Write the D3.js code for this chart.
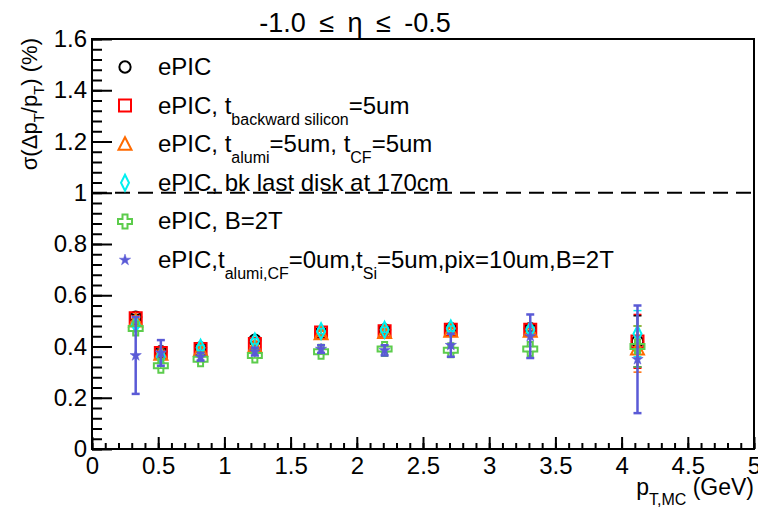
<!DOCTYPE html>
<html>
<head>
<meta charset="utf-8">
<script src="https://cdn.jsdelivr.net/npm/d3@7"></script>
<style>
	body { margin: 0; background: #fff; }
	svg { display: block; font-family: "Liberation Sans", Arial, sans-serif; }
</style>
</head>
<body>
<svg id="chart" width="758" height="510"></svg>
<script>
const ptValues = [0.33, 0.52, 0.82, 1.23, 1.73, 2.21, 2.71, 3.31, 4.12];

const epic = [0.515, 0.38, 0.395, 0.425, 0.455, 0.465, 0.47, 0.47, 0.42],
	epicErr = [0.01, 0.01, 0.01, 0.01, 0.01, 0.01, 0.01, 0.01, 0.1];
const bwdSi = [0.51, 0.375, 0.39, 0.41, 0.455, 0.46, 0.465, 0.465, 0.42],
	bwdSiErr = [0.01, 0.01, 0.01, 0.01, 0.01, 0.01, 0.01, 0.01, 0.105];
const alumiCF = [0.5, 0.37, 0.385, 0.4, 0.45, 0.455, 0.46, 0.46, 0.39],
	alumiCFErr = [0.01, 0.01, 0.01, 0.01, 0.01, 0.01, 0.01, 0.01, 0.09];
const lastDisk = [0.485, 0.36, 0.395, 0.42, 0.46, 0.465, 0.47, 0.465, 0.45],
	lastDiskErr = [0.01, 0.01, 0.01, 0.01, 0.01, 0.01, 0.01, 0.01, 0.09];
const field2T = [0.47, 0.325, 0.35, 0.365, 0.38, 0.39, 0.385, 0.39, 0.4],
	field2TErr = [0.01, 0.01, 0.01, 0.01, 0.01, 0.01, 0.01, 0.01, 0.08];
const thinAll = [0.365, 0.375, 0.36, 0.38, 0.39, 0.385, 0.405, 0.44, 0.35],
	thinAllErr = [0.15, 0.05, 0.015, 0.015, 0.015, 0.02, 0.045, 0.085, 0.21];

const xTicks = [0, 0.5, 1, 1.5, 2, 2.5, 3, 3.5, 4, 4.5, 5],
	yTicks = [0, 0.2, 0.4, 0.6, 0.8, 1, 1.2, 1.4, 1.6];

// legend labels, pieces flagged sub are subscripts
const legendLabels = [
	[{ t: 'ePIC' }],
	[{ t: 'ePIC, t' }, { t: 'backward silicon', sub: true }, { t: '=5um' }],
	[{ t: 'ePIC, t' }, { t: 'alumi', sub: true }, { t: '=5um, t' }, { t: 'CF', sub: true }, { t: '=5um' }],
	[{ t: 'ePIC, bk last disk at 170cm' }],
	[{ t: 'ePIC, B=2T' }],
	[{ t: 'ePIC,t' }, { t: 'alumi,CF', sub: true }, { t: '=0um,t' }, { t: 'Si', sub: true }, { t: '=5um,pix=10um,B=2T' }]
];

const series = [
	{ values: epic, errs: epicErr, color: '#000000', marker: 'circle' },
	{ values: bwdSi, errs: bwdSiErr, color: '#ff0000', marker: 'square' },
	{ values: alumiCF, errs: alumiCFErr, color: '#ff6a00', marker: 'triangle' },
	{ values: lastDisk, errs: lastDiskErr, color: '#00f0f0', marker: 'diamond' },
	{ values: field2T, errs: field2TErr, color: '#5ccc4c', marker: 'cross' },
	{ values: thinAll, errs: thinAllErr, color: '#5a5ad6', marker: 'star' }
];

const plotLeft = 92, plotRight = 754, plotTop = 39, plotBottom = 449;

const x = d3.scaleLinear().domain([0, 5]).range([plotLeft, plotRight]),
	y = d3.scaleLinear().domain([0, 1.6]).range([plotBottom, plotTop]);

const svg = d3.select('#chart');

// minor ticks
svg.append('g')
	.attr('transform', `translate(0,${plotBottom})`)
	.call(d3.axisBottom(x).tickValues(d3.range(0, 5.001, 0.1)).tickSize(-6).tickFormat(''))
	.call(g => g.select('.domain').remove())
	.call(g => g.selectAll('line').attr('stroke-width', 2));
svg.append('g')
	.attr('transform', `translate(${plotLeft},0)`)
	.call(d3.axisLeft(y).tickValues(d3.range(0, 1.601, 0.04)).tickSize(-10).tickFormat(''))
	.call(g => g.select('.domain').remove())
	.call(g => g.selectAll('line').attr('stroke-width', 2));

// major ticks + labels
svg.append('g')
	.attr('transform', `translate(0,${plotBottom})`)
	.call(d3.axisBottom(x).tickValues(xTicks).tickSize(-12).tickPadding(8).tickFormat(d3.format('')))
	.call(g => g.select('.domain').remove())
	.call(g => g.selectAll('line').attr('stroke-width', 2))
	.call(g => g.selectAll('text').attr('font-size', 24).attr('fill', '#000').style('font-family', 'Liberation Sans'));
svg.append('g')
	.attr('transform', `translate(${plotLeft},0)`)
	.call(d3.axisLeft(y).tickValues(yTicks).tickSize(-20).tickPadding(5).tickFormat(d3.format('')))
	.call(g => g.select('.domain').remove())
	.call(g => g.selectAll('line').attr('stroke-width', 2))
	.call(g => g.selectAll('text').attr('font-size', 24).attr('fill', '#000').style('font-family', 'Liberation Sans'));

svg.append('rect')
	.attr('x', plotLeft).attr('y', plotTop)
	.attr('width', plotRight - plotLeft).attr('height', plotBottom - plotTop)
	.attr('fill', 'none').attr('stroke', '#000').attr('stroke-width', 2);

// reference line at 1
svg.append('line')
	.attr('x1', x(0)).attr('x2', x(5))
	.attr('y1', y(1)).attr('y2', y(1))
	.attr('stroke', '#000').attr('stroke-width', 2)
	.attr('stroke-dasharray', '15,8');

// title
svg.append('text')
	.attr('x', 355).attr('y', 32)
	.attr('text-anchor', 'middle').attr('font-size', 27)
	.attr('word-spacing', 6)
	.text('-1.0 \u2264 \u03b7 \u2264 -0.5');

// x axis title
const xt = svg.append('text')
	.attr('x', plotRight).attr('y', 495)
	.attr('text-anchor', 'end').attr('font-size', 23);
xt.append('tspan').text('p');
xt.append('tspan').attr('dy', 10).attr('font-size', 16).text('T,MC');
xt.append('tspan').attr('dy', -10).text(' (GeV)');

// y axis title
const yt = svg.append('text')
	.attr('transform', `translate(37,${plotTop - 1}) rotate(-90)`)
	.attr('text-anchor', 'end').attr('font-size', 22);
yt.append('tspan').text('\u03c3(\u0394p');
yt.append('tspan').attr('dy', 7).attr('font-size', 15).text('T');
yt.append('tspan').attr('dy', -7).text('/p');
yt.append('tspan').attr('dy', 7).attr('font-size', 15).text('T');
yt.append('tspan').attr('dy', -7).text(') (%)');

// markers
function markerPath(type) {
	switch (type) {
		case 'circle': return d3.symbol(d3.symbolCircle, 100)();
		case 'square': return 'M-6,-6H6V6H-6Z';
		case 'triangle': return 'M0,-7L6.5,5.5H-6.5Z';
		case 'diamond': return 'M0,-8L4,0L0,8L-4,0Z';
		case 'cross': return 'M-2.5,-7H2.5V-2.5H7V2.5H2.5V7H-2.5V2.5H-7V-2.5H-2.5Z';
		case 'star': return d3.symbol(d3.symbolStar, 40)();
	}
}

function drawMarker(g, s) {
	g.append('path')
		.attr('d', markerPath(s.marker))
		.attr('fill', s.marker === 'star' ? s.color : 'none')
		.attr('stroke', s.color)
		.attr('stroke-width', s.marker === 'star' ? 0.5 : 2);
}

series.forEach(s => {
	const g = svg.append('g');
	s.values.forEach((v, i) => {
		const px = x(ptValues[i]), lo = y(v - s.errs[i]), hi = y(v + s.errs[i]);
		const sw = s.marker === 'star' ? 2.5 : 1.5;
		g.append('line').attr('x1', px).attr('x2', px).attr('y1', lo).attr('y2', hi)
			.attr('stroke', s.color).attr('stroke-width', sw);
		[lo, hi].forEach(yy => g.append('line')
			.attr('x1', px - 4).attr('x2', px + 4).attr('y1', yy).attr('y2', yy)
			.attr('stroke', s.color).attr('stroke-width', sw));
		const m = g.append('g').attr('transform', `translate(${px},${y(v)})`);
		drawMarker(m, s);
	});
});

// legend
legendLabels.forEach((pieces, i) => {
	const cy = 67 + i * 38.6;
	const m = svg.append('g').attr('transform', `translate(125,${cy})`);
	drawMarker(m, series[i]);
	const t = svg.append('text').attr('x', 158).attr('y', cy + 8).attr('font-size', 24);
	let down = false;
	pieces.forEach(p => {
		const ts = t.append('tspan').text(p.t);
		if (p.sub && !down) { ts.attr('dy', 11).attr('font-size', 16); down = true; }
		else if (!p.sub && down) { ts.attr('dy', -11); down = false; }
	});
});
</script>
</body>
</html>
